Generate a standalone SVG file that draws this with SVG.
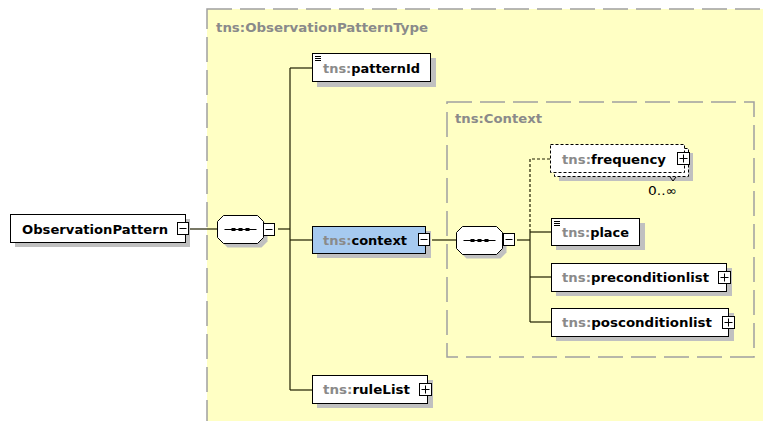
<svg xmlns="http://www.w3.org/2000/svg" width="763" height="421" viewBox="0 0 763 421">
<defs>
<style>
.frame{fill:none;stroke:#a0a0a0;stroke-width:1.5;stroke-dasharray:25 8}
.box{fill:#fff;stroke:#000;stroke-width:1}
.sel{fill:#a6caf0;stroke:#000;stroke-width:1}
.shadow{fill:#c0c0c0;stroke:none}
.ln{fill:none;stroke:#1e1e00;stroke-width:1.2}
.dln{fill:none;stroke:#1e1e00;stroke-width:1.2;stroke-dasharray:3 2}
.dbox{fill:#fff;stroke:#000;stroke-width:1;stroke-dasharray:3 2}
.t{font-family:"DejaVu Sans",Verdana,sans-serif;font-size:13px;font-weight:bold;fill:#000}
.ns{fill:#8a8a8a}
.hdr{font-family:"DejaVu Sans",Verdana,sans-serif;font-size:13px;font-weight:bold;fill:#8a8a8a}
.occ{font-family:"DejaVu Sans",Verdana,sans-serif;font-size:12px;fill:#000}
.btn{fill:#fff;stroke:#000;stroke-width:1}
.sym{stroke:#000;stroke-width:1;fill:none}
</style>
<g id="minus">
<rect class="btn" x="0" y="0" width="11" height="12"/>
<line class="sym" x1="2" y1="6" x2="9" y2="6"/>
</g>
<g id="plus">
<rect class="btn" x="0" y="0" width="12" height="12"/>
<line class="sym" x1="2" y1="6" x2="10" y2="6"/>
<line class="sym" x1="6" y1="2" x2="6" y2="10"/>
</g>
<g id="seq">
<polygon class="shadow" points="10,4 44,4 50,10 50,26 44,32 10,32 4,26 4,10"/>
<polygon class="box" points="6,0 40,0 46,6 46,22 40,28 6,28 0,22 0,6"/>
<line class="sym" x1="7" y1="14" x2="39" y2="14"/>
<rect x="14" y="12.5" width="4" height="3" fill="#000"/>
<rect x="21" y="12.5" width="4" height="3" fill="#000"/>
<rect x="28" y="12.5" width="4" height="3" fill="#000"/>
</g>
<g id="doc">
<line class="sym" x1="0" y1="0.5" x2="6" y2="0.5"/>
<line class="sym" x1="0" y1="2.5" x2="6" y2="2.5"/>
<line class="sym" x1="0" y1="4.5" x2="6" y2="4.5"/>
</g>
</defs>
<rect x="0" y="0" width="763" height="421" fill="#fff"/>

<g id="type-frame">
<rect x="207" y="9" width="570" height="430" fill="#ffffc4"/>
<rect class="frame" x="207" y="9" width="570" height="430"/>
<text class="hdr" x="216" y="32" textLength="212" lengthAdjust="spacingAndGlyphs">tns:ObservationPatternType</text>
</g>

<g id="context-frame">
<rect class="frame" x="447" y="102" width="307" height="255"/>
<text class="hdr" x="455" y="123" textLength="87" lengthAdjust="spacingAndGlyphs">tns:Context</text>
</g>

<g id="connectors">
<line class="ln" x1="188" y1="229" x2="217" y2="229"/>
<line class="ln" x1="278" y1="229" x2="290" y2="229"/>
<line class="ln" x1="290" y1="68" x2="290" y2="390"/>
<line class="ln" x1="290" y1="68" x2="312" y2="68"/>
<line class="ln" x1="290" y1="240" x2="312" y2="240"/>
<line class="ln" x1="290" y1="390" x2="312" y2="390"/>
<line class="ln" x1="432" y1="240" x2="456" y2="240"/>
<line class="ln" x1="517" y1="240" x2="530" y2="240"/>
<path class="dln" d="M550,159 H530 V232"/>
<line class="ln" x1="530" y1="232" x2="530" y2="322"/>
<line class="ln" x1="530" y1="232" x2="551" y2="232"/>
<line class="ln" x1="530" y1="277" x2="551" y2="277"/>
<line class="ln" x1="530" y1="322" x2="551" y2="322"/>
</g>

<g id="ObservationPattern">
<rect class="shadow" x="15" y="219" width="175" height="28"/>
<rect class="box" x="10.5" y="214.5" width="175" height="28"/>
<text class="t" x="22" y="234" textLength="146" lengthAdjust="spacingAndGlyphs">ObservationPattern</text>
<use href="#minus" x="177.5" y="222.5"/>
</g>

<g id="sequence1">
<use href="#seq" x="217.5" y="215.5"/>
<use href="#minus" x="263.5" y="223.5"/>
</g>

<g id="patternId">
<rect class="shadow" x="317" y="58" width="119" height="29"/>
<rect class="box" x="312.5" y="53.5" width="118" height="28"/>
<use href="#doc" x="315" y="56"/>
<text class="t" x="323" y="73" textLength="97" lengthAdjust="spacingAndGlyphs"><tspan class="ns">tns:</tspan>patternId</text>
</g>

<g id="context">
<rect class="shadow" x="317" y="231" width="114" height="27"/>
<rect class="sel" x="312.5" y="226.5" width="113" height="27"/>
<text class="t" x="323" y="245" textLength="84" lengthAdjust="spacingAndGlyphs"><tspan class="ns">tns:</tspan>context</text>
<use href="#minus" x="418.5" y="233.5"/>
</g>

<g id="sequence2">
<use href="#seq" x="456.5" y="226.5"/>
<use href="#minus" x="503.5" y="233.5"/>
</g>

<g id="frequency">
<rect class="shadow" x="559" y="153" width="134" height="28"/>
<rect class="dbox" x="554.5" y="148.5" width="134" height="28"/>
<rect class="dbox" x="550.5" y="144.5" width="134" height="28"/>
<text class="t" x="562" y="164" textLength="104" lengthAdjust="spacingAndGlyphs"><tspan class="ns">tns:</tspan>frequency</text>
<use href="#plus" x="677.5" y="152.5"/>
<path class="sym" d="M670,177 L673,181 L676,177" stroke="#888"/>
<text class="occ" x="648" y="195" textLength="29" lengthAdjust="spacingAndGlyphs">0..∞</text>
</g>

<g id="place">
<rect class="shadow" x="556" y="223" width="89" height="27"/>
<rect class="box" x="551.5" y="218.5" width="88" height="27"/>
<use href="#doc" x="554" y="221"/>
<text class="t" x="562" y="237" textLength="67" lengthAdjust="spacingAndGlyphs"><tspan class="ns">tns:</tspan>place</text>
</g>

<g id="preconditionlist">
<rect class="shadow" x="556" y="268" width="176" height="28"/>
<rect class="box" x="551.5" y="263.5" width="175" height="28"/>
<text class="t" x="562" y="282" textLength="147" lengthAdjust="spacingAndGlyphs"><tspan class="ns">tns:</tspan>preconditionlist</text>
<use href="#plus" x="718.5" y="271.5"/>
</g>

<g id="posconditionlist">
<rect class="shadow" x="556" y="313" width="178" height="28"/>
<rect class="box" x="551.5" y="308.5" width="177" height="28"/>
<text class="t" x="562" y="327" textLength="150" lengthAdjust="spacingAndGlyphs"><tspan class="ns">tns:</tspan>posconditionlist</text>
<use href="#plus" x="722.5" y="316.5"/>
</g>

<g id="ruleList">
<rect class="shadow" x="317" y="380" width="116" height="28"/>
<rect class="box" x="312.5" y="375.5" width="115" height="28"/>
<text class="t" x="323" y="394" textLength="87" lengthAdjust="spacingAndGlyphs"><tspan class="ns">tns:</tspan>ruleList</text>
<use href="#plus" x="419.5" y="383.5"/>
</g>
</svg>
